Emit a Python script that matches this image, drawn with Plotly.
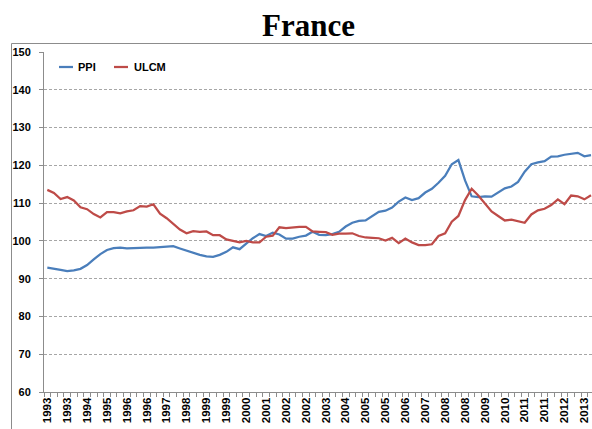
import plotly.graph_objects as go

years = list(range(1993, 2014))
quarters = [f"{y}Q{q}" for y in years for q in range(1, 5)][:83]

ppi = [92.9, 92.5, 92.3, 92.0, 92.2, 92.6, 93.6, 95.1, 96.5, 97.6,
       98.1, 98.2, 98.0, 98.1, 98.2, 98.2, 98.2, 98.3, 98.5, 98.6,
       98.0, 97.4, 96.9, 96.3, 95.9, 95.8, 96.3, 97.1, 98.3, 97.8,
       99.3, 100.7, 101.8, 101.3, 102.2, 101.7, 100.6, 100.6, 101.1, 101.4,
       102.4, 101.6, 101.5, 101.8, 102.4, 103.8, 104.8, 105.3, 105.4, 106.6,
       107.7, 108.0, 108.8, 110.4, 111.5, 110.8, 111.3, 112.8, 113.8, 115.4,
       117.2, 120.3, 121.4, 116.0, 111.8, 111.6, 111.8, 111.7, 112.8, 113.9,
       114.4, 115.6, 118.3, 120.3, 120.8, 121.1, 122.3, 122.4, 122.8, 123.1,
       123.3, 122.4, 122.7]

ulcm = [113.5, 112.7, 111.1, 111.6, 110.7, 108.9, 108.4, 107.1, 106.2, 107.6,
        107.6, 107.3, 107.8, 108.1, 109.2, 109.1, 109.7, 107.2, 106.0, 104.6,
        103.0, 102.0, 102.6, 102.4, 102.5, 101.5, 101.5, 100.4, 99.9, 99.6,
        100.0, 99.6, 99.6, 101.1, 101.4, 103.6, 103.4, 103.6, 103.7, 103.7,
        102.5, 102.4, 102.3, 101.6, 101.9, 101.9, 102.0, 101.3, 100.9, 100.8,
        100.7, 100.1, 100.8, 99.4, 100.6, 99.6, 98.9, 98.9, 99.1, 101.3,
        102.0, 105.1, 106.6, 110.8, 113.8, 112.0, 110.0, 107.8, 106.6, 105.4,
        105.6, 105.3, 104.8, 107.0, 108.1, 108.5, 109.5, 111.0, 109.7, 112.0,
        111.8, 111.0, 112.1]

series_names = ["PPI", "ULCM"]
colors = ["#4A7EBB", "#BE4B48"]

x_idx = list(range(len(quarters)))
tick_idx = x_idx[::3]
tick_text = [quarters[i][:4] for i in tick_idx]

W, H = 592, 429
L, R, T, B = 44, 0, 52, 37
PW, PH = W - L - R, H - T - B


def px(xp):
    return (xp - L) / PW


def py(yp):
    return (H - B - yp) / PH


fig = go.Figure()
for name, vals, col in zip(series_names, [ppi, ulcm], colors):
    fig.add_trace(go.Scatter(x=x_idx, y=vals, mode="lines", name=name,
                             line=dict(color=col, width=2.25), showlegend=False))

font_b = "Liberation Sans"
shapes = [
    dict(type="rect", xref="paper", yref="paper", x0=px(11.5), x1=px(700),
         y0=py(500), y1=py(43.5), line=dict(color="#8C8C8C", width=1), layer="below"),
]
annotations = [
    dict(text="<b>France</b>", xref="paper", yref="paper", x=px(308), y=py(25),
         xanchor="center", yanchor="middle", showarrow=False,
         font=dict(family="Liberation Serif", size=31, color="black")),
]
# legend
leg = [(59, 73, 76, "PPI", colors[0]), (114, 128, 132, "ULCM", colors[1])]
for x0, x1, xt, txt, col in leg:
    shapes.append(dict(type="line", xref="paper", yref="paper", x0=px(x0), x1=px(x1),
                       y0=py(67), y1=py(67), line=dict(color=col, width=2.25)))
    annotations.append(dict(text=txt, xref="paper", yref="paper", x=px(xt),
                            y=py(67), xanchor="left", yanchor="middle", showarrow=False,
                            font=dict(family=font_b, size=11, color="black", weight="bold")))

fig.update_layout(
    width=W, height=H, margin=dict(l=L, r=R, t=T, b=B, pad=0),
    paper_bgcolor="white", plot_bgcolor="white",
    shapes=shapes, annotations=annotations,
    xaxis=dict(range=[-0.5, 82.15], tickmode="array", tickvals=tick_idx, ticktext=tick_text,
               tickangle=-90, ticks="", showgrid=False, zeroline=False,
               showline=True, linecolor="#8C8C8C", linewidth=1,
               tickfont=dict(family=font_b, size=11.5, color="black", weight="bold"),
               minor=dict(ticks="outside", tick0=-0.5, dtick=1, ticklen=4,
                          tickcolor="#8C8C8C", showgrid=False)),
    yaxis=dict(range=[60, 150], dtick=10, tick0=60, ticks="outside", ticklen=4,
               tickcolor="#8C8C8C", showline=True, linecolor="#8C8C8C", linewidth=1,
               showgrid=True, gridcolor="#A6A6A6", griddash="3px,2px", gridwidth=1,
               zeroline=False, ticklabelstandoff=6,
               tickfont=dict(family=font_b, size=11, color="black", weight="bold")),
)

fig.write_html("out.html", config={"displayModeBar": False},
               post_script="document.body.style.margin='0';document.body.style.overflow='hidden';")
